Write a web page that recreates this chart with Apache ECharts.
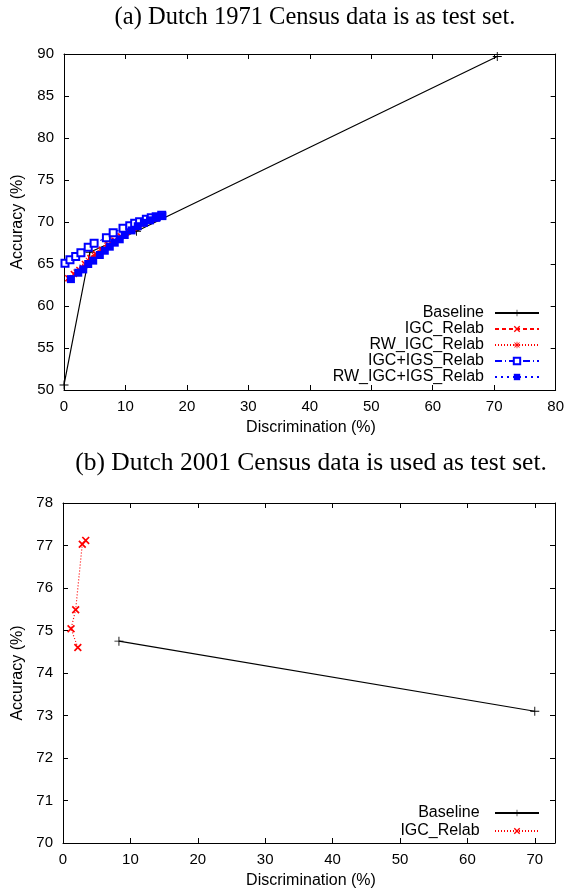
<!DOCTYPE html>
<html><head><meta charset="utf-8">
<script src="https://cdn.jsdelivr.net/npm/echarts@6/dist/echarts.min.js"></script>
<style>html,body{margin:0;padding:0;background:#fff}#c{width:567px;height:892px}</style>
</head><body><div id="c"></div>
<script>
// ---- Data: chart (a) Dutch 1971 ----
const baselineA = [[0,50.6],[4.2,66.4],[11.8,68.9],[70.5,89.7]];
const igcRelabA = [[0.7,63.3],[1.6,63.8],[2.5,64.3],[3.4,65.0],[4.3,65.7],[5.2,66.2],[6.2,66.7],[7.2,67.3],[8.2,67.8],[9.2,68.3],[10.2,68.8],[11.3,69.3],[12.5,69.8],[13.8,70.2],[15.0,70.5],[16.0,70.7]];
const rwIgcRelabA = [[0.9,63.2],[2.0,64.0],[3.0,64.6],[4.0,65.4],[5.0,66.0],[6.0,66.6],[7.0,67.2],[8.0,67.7],[9.0,68.2],[10.0,68.7],[11.0,69.2],[12.2,69.7],[13.5,70.1],[14.8,70.4],[15.8,70.7]];
const igcIgsRelabA = [[0.16,65.1],[0.97,65.5],[1.9,65.9],[2.75,66.35],[3.94,67.0],[4.9,67.46],[6.9,68.13],[8.0,68.73],[9.6,69.25],[10.7,69.56],[11.5,69.84],[12.3,70.04],[13.4,70.32],[14.2,70.51],[15.0,70.63],[15.9,70.79]];
const rwIgcIgsRelabA = [[1.13,63.2],[2.32,63.96],[3.13,64.36],[3.94,65.0],[4.75,65.4],[5.83,66.07],[6.64,66.58],[7.45,67.06],[8.26,67.54],[9.07,67.94],[9.88,68.45],[11.0,69.0],[12.0,69.5],[13.0,69.9],[14.0,70.2],[15.0,70.5],[16.0,70.7]];
// ---- Data: chart (b) Dutch 2001 ----
const baselineB = [[8.3,74.75],[70.0,73.1]];
const igcRelabB = [[2.2,74.6],[1.19,75.04],[1.88,75.49],[2.86,77.03],[3.37,77.12]];
// ---- Axis / text ----
const titleA = '(a) Dutch 1971 Census data is as test set.';
const titleB = '(b) Dutch 2001 Census data is used as test set.';
const xName = 'Discrimination (%)';
const yName = 'Accuracy (%)';
const namesA = ['Baseline','IGC_Relab','RW_IGC_Relab','IGC+IGS_Relab','RW_IGC+IGS_Relab'];
const namesB = ['Baseline','IGC_Relab'];

const PLUS = 'path://M4.5,0H5.5V10H4.5Z M0,4.5H10V5.5H0Z';
const CROSS = 'path://M0,1.5L1.5,0L10,8.5L8.5,10Z M8.5,0L10,1.5L1.5,10L0,8.5Z';
const ASTER = 'path://M4.4,0H5.6V10H4.4Z M0,4.4H10V5.6H0Z M0.6,1.5L1.5,0.6L9.4,8.5L8.5,9.4Z M8.5,0.6L9.4,1.5L1.5,9.4L0.6,8.5Z';
const RED = '#ff0000', BLUE = '#0000ff';
const SANS = 'Liberation Sans';

const chart = echarts.init(document.getElementById('c'), null, {renderer:'canvas'});

function xa(grid, pos, min, max, labels){
  return {type:'value', gridIndex:grid, position:pos, min:min, max:max, interval:10,
    axisLine:{show:true,onZero:false,lineStyle:{color:'#000',width:1}},
    axisTick:{show:true,inside:true,length:5,lineStyle:{color:'#000'}},
    axisLabel:{show:labels,fontFamily:SANS,fontSize:15,color:'#000',margin:9,showMaxLabel: max===80},
    splitLine:{show:false}};
}
function ya(grid, pos, min, max, itv, labels){
  return {type:'value', gridIndex:grid, position:pos, min:min, max:max, interval:itv,
    axisLine:{show:true,onZero:false,lineStyle:{color:'#000',width:1}},
    axisTick:{show:true,inside:true,length:5,lineStyle:{color:'#000'}},
    axisLabel:{show:labels,fontFamily:SANS,fontSize:15,color:'#000',margin:10},
    splitLine:{show:false}};
}
function legend(name, right, cy){
  return {data:[name], orient:'horizontal', align:'right', right:right, top:cy-8, padding:0,
    itemWidth:44, itemHeight:8, selectedMode:false,
    textStyle:{fontFamily:SANS,fontSize:16,color:'#000',lineHeight:16,padding:[0,6,0,0]}};
}
const legends = [];
const cyA = [313,329,345,361,377];
namesA.forEach((n,i)=>legends.push(legend(n,27,cyA[i])));

const option = {
  animation:false,
  backgroundColor:'#fff',
  grid:[
    {left:64, top:54, width:494, height:336},
    {left:63, top:503, width:492, height:340}
  ],
  xAxis:[xa(0,'bottom',0,80,true), xa(0,'top',0,80,false), xa(1,'bottom',0,73,true), xa(1,'top',0,73,false)],
  yAxis:[ya(0,'left',50,90,5,true), ya(0,'right',50,90,5,false), ya(1,'left',70,78,1,true), ya(1,'right',70,78,1,false)],
  legend: legends,
  graphic:[
    {type:'text', x:315, y:18, style:{text:titleA, font:'24.5px "Liberation Serif"', fill:'#000', align:'center', verticalAlign:'middle'}},
    {type:'text', x:311, y:463, style:{text:titleB, font:'25.5px "Liberation Serif"', fill:'#000', align:'center', verticalAlign:'middle'}},
    {type:'text', x:311, y:428, style:{text:xName, font:'16px "Liberation Sans"', fill:'#000', align:'center', verticalAlign:'middle'}},
    {type:'text', x:311, y:881, style:{text:xName, font:'16px "Liberation Sans"', fill:'#000', align:'center', verticalAlign:'middle'}},
    {type:'text', x:18, y:222, rotation:Math.PI/2, style:{text:yName, font:'16px "Liberation Sans"', fill:'#000', align:'center', verticalAlign:'middle'}},
    {type:'text', x:18, y:673, rotation:Math.PI/2, style:{text:yName, font:'16px "Liberation Sans"', fill:'#000', align:'center', verticalAlign:'middle'}}
  ],
  series:[
    {name:namesA[0], type:'line', xAxisIndex:0, yAxisIndex:0, data:baselineA, symbol:PLUS, symbolSize:9,
      itemStyle:{color:'#000'}, lineStyle:{color:'#000',width:1.2}},
    {name:namesA[1], type:'line', xAxisIndex:0, yAxisIndex:0, data:igcRelabA, symbol:CROSS, symbolSize:7,
      itemStyle:{color:RED}, lineStyle:{color:RED,width:1.2,type:[4,3]}},
    {name:namesA[2], type:'line', xAxisIndex:0, yAxisIndex:0, data:rwIgcRelabA, symbol:ASTER, symbolSize:7,
      itemStyle:{color:RED}, lineStyle:{color:RED,width:1.2,type:[1,2]}},
    {name:namesA[3], type:'line', xAxisIndex:0, yAxisIndex:0, data:igcIgsRelabA, symbol:'emptyRect', symbolSize:7,
      itemStyle:{color:BLUE,borderColor:BLUE,borderWidth:1.3}, lineStyle:{color:BLUE,width:1.2,type:[7,3,1,3]}},
    {name:namesA[4], type:'line', xAxisIndex:0, yAxisIndex:0, data:rwIgcIgsRelabA, symbol:'rect', symbolSize:8,
      itemStyle:{color:BLUE}, lineStyle:{color:BLUE,width:1.2,type:[2,4]}},
    {name:namesB[0]+' ', type:'line', xAxisIndex:2, yAxisIndex:2, data:baselineB, symbol:PLUS, symbolSize:9,
      itemStyle:{color:'#000'}, lineStyle:{color:'#000',width:1.2}},
    {name:namesB[1]+' ', type:'line', xAxisIndex:2, yAxisIndex:2, data:igcRelabB, symbol:CROSS, symbolSize:8,
      itemStyle:{color:RED}, lineStyle:{color:RED,width:1.2,type:[1,2]}}
  ]
};
option.legend.push(legend(namesB[0]+' ',27,813));
option.legend.push(legend(namesB[1]+' ',27,831));
chart.setOption(option);
</script>
</body></html>
